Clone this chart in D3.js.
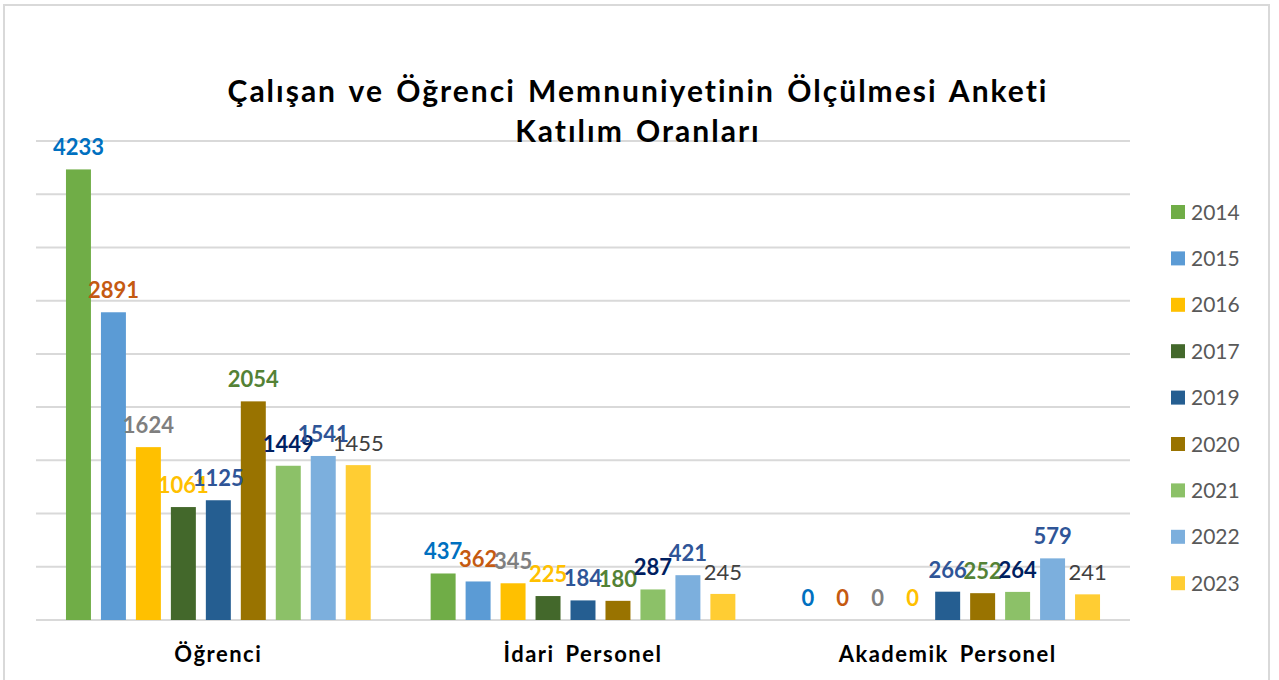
<!DOCTYPE html>
<html lang="tr">
	<head>
		<meta charset="utf-8">
		<title>Çalışan ve Öğrenci Memnuniyetinin Ölçülmesi Anketi</title>
		<script type="text/javascript" src="https://cdn.jsdelivr.net/npm/d3@7/dist/d3.min.js" charset="utf-8"></script>
		<style type="text/css">
			body { margin: 0; background: #fff; }
			svg { display: block; }
		</style>
	</head>
	<body>

		<script type="text/javascript">
			//Width and height
			var w = 1279;
			var h = 680;

			//Data
			var categories = ["Öğrenci", "İdari Personel", "Akademik Personel"];
			var years = ["2014", "2015", "2016", "2017", "2019", "2020", "2021", "2022", "2023"];
			var ogrenci = [4233, 2891, 1624, 1061, 1125, 2054, 1449, 1541, 1455];
			var idari = [437, 362, 345, 225, 184, 180, 287, 421, 245];
			var akademik = [0, 0, 0, 0, 266, 252, 264, 579, 241];
			var seriesByCategory = [ogrenci, idari, akademik];

			//Colours
			var barColors = ["#70AD47", "#5B9BD5", "#FFC000", "#43682B", "#255E91",
							 "#997300", "#8CC168", "#7CAFDD", "#FFCD33"];
			var labelColors = ["#0070C0", "#C55A11", "#7F7F7F", "#FFC000", "#2F5597",
							   "#548235", "#002060", "#2F5597", "#404040"];

			var font = "Lato, 'Open Sans', sans-serif";

			//Create SVG element
			var svg = d3.select("body")
						.append("svg")
						.attr("width", w)
						.attr("height", h);

			//Chart frame
			svg.append("rect")
			   .attr("x", 4)
			   .attr("y", 5)
			   .attr("width", 1265)
			   .attr("height", 690)
			   .attr("fill", "none")
			   .attr("stroke", "#d9d9d9")
			   .attr("stroke-width", 2);

			//Scales
			var x0 = d3.scaleBand()
					   .domain(categories)
					   .range([36, 1130]);

			var x1 = d3.scaleBand()
					   .domain(years)
					   .range([0, x0.bandwidth()])
					   .paddingInner(0.2857)
					   .paddingOuter(0.857);

			var y = d3.scaleLinear()
					  .domain([0, 4500])
					  .range([620, 141]);

			//Gridlines
			svg.append("g")
			   .selectAll("line")
			   .data(y.ticks(9))
			   .enter()
			   .append("line")
			   .attr("x1", 36)
			   .attr("x2", 1130)
			   .attr("y1", function(d) { return y(d); })
			   .attr("y2", function(d) { return y(d); })
			   .attr("stroke", "#d9d9d9")
			   .attr("stroke-width", 2);

			//Bars
			var groups = svg.selectAll("g.group")
							.data(categories)
							.enter()
							.append("g")
							.attr("class", "group")
							.attr("transform", function(d) {
								return "translate(" + x0(d) + ",0)";
							});

			function rows(d, i) {
				return seriesByCategory[i].map(function(v, j) {
					return { year: years[j], value: v, idx: j };
				});
			}

			groups.selectAll("rect")
				  .data(rows)
				  .enter()
				  .append("rect")
				  .attr("x", function(d) { return x1(d.year); })
				  .attr("y", function(d) { return y(d.value); })
				  .attr("width", x1.bandwidth())
				  .attr("height", function(d) { return y(0) - y(d.value); })
				  .attr("fill", function(d) { return barColors[d.idx]; });

			//Value labels
			groups.selectAll("text")
				  .data(rows)
				  .enter()
				  .append("text")
				  .text(function(d) { return d.value; })
				  .attr("text-anchor", "middle")
				  .attr("x", function(d) { return x1(d.year) + x1.bandwidth() / 2; })
				  .attr("y", function(d) { return y(d.value) - 14; })
				  .attr("font-family", font)
				  .attr("font-size", "22px")
				  .attr("font-weight", function(d) { return d.idx === 8 ? "normal" : "bold"; })
				  .attr("fill", function(d) { return labelColors[d.idx]; });

			//Category labels
			svg.append("g")
			   .selectAll("text")
			   .data(categories)
			   .enter()
			   .append("text")
			   .text(function(d) { return d; })
			   .attr("text-anchor", "middle")
			   .attr("x", function(d) { return x0(d) + x0.bandwidth() / 2; })
			   .attr("y", 662)
			   .attr("font-family", font)
			   .attr("font-size", "22px")
			   .attr("font-weight", "bold")
			   .attr("letter-spacing", "1.5px")
			   .attr("word-spacing", "4px")
			   .attr("fill", "#000");

			//Title
			var title = svg.append("text")
						   .attr("text-anchor", "middle")
						   .attr("font-family", font)
						   .attr("font-size", "30px")
						   .attr("font-weight", "bold")
						   .attr("letter-spacing", "2px")
						   .attr("word-spacing", "3px")
						   .attr("fill", "#000");
			title.append("tspan")
				 .attr("x", 638)
				 .attr("y", 102)
				 .text("Çalışan ve Öğrenci Memnuniyetinin Ölçülmesi Anketi");
			title.append("tspan")
				 .attr("x", 638)
				 .attr("y", 142)
				 .text("Katılım Oranları");

			//Legend
			var legend = svg.append("g")
							.selectAll("g")
							.data(years)
							.enter()
							.append("g")
							.attr("transform", function(d, i) {
								return "translate(1171," + (212 + i * 46.4) + ")";
							});

			legend.append("rect")
				  .attr("x", 0)
				  .attr("y", -7)
				  .attr("width", 14)
				  .attr("height", 14)
				  .attr("fill", function(d, i) { return barColors[i]; });

			legend.append("text")
				  .text(function(d) { return d; })
				  .attr("x", 20)
				  .attr("y", 7.5)
				  .attr("font-family", font)
				  .attr("font-size", "21px")
				  .attr("fill", "#595959");
		</script>
	</body>
</html>
